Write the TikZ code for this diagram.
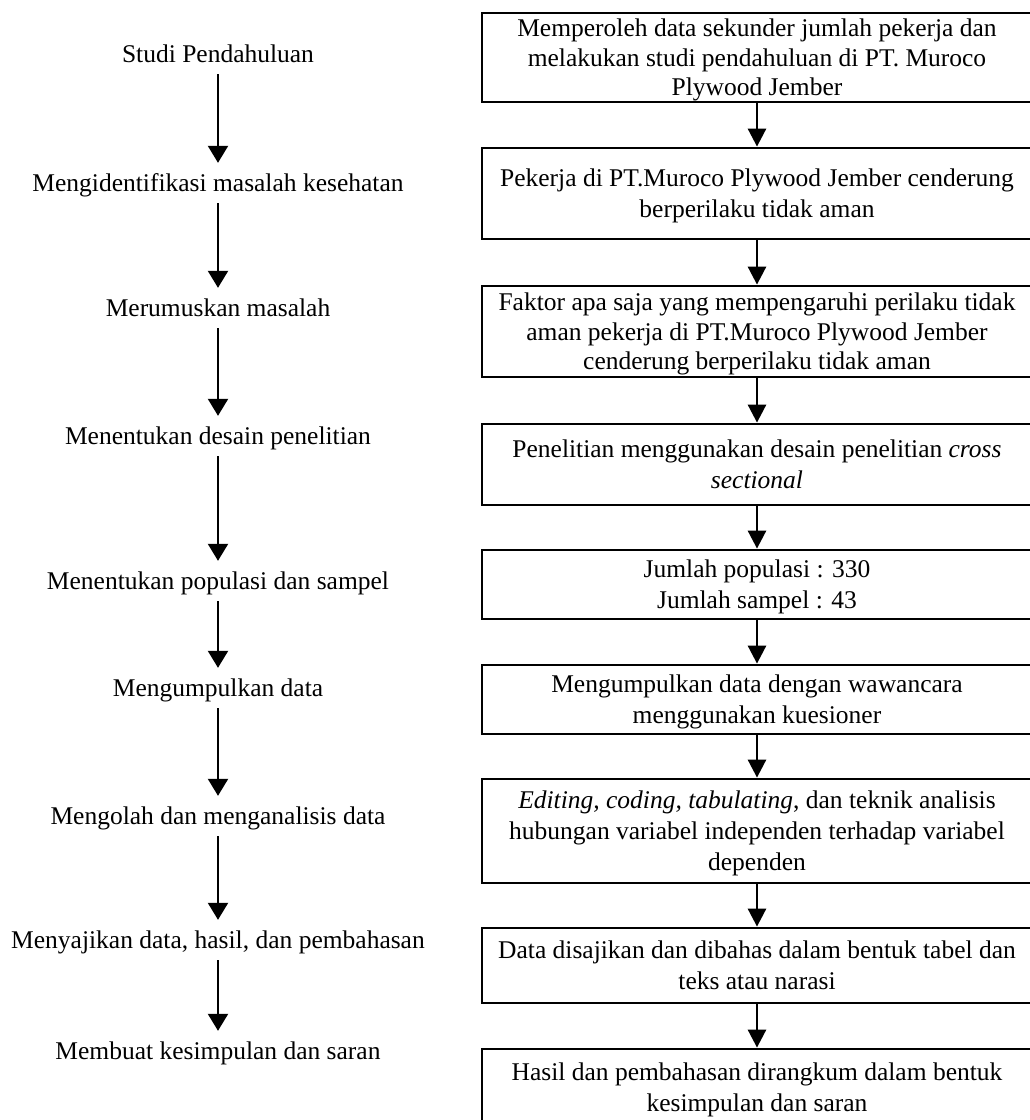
\documentclass[tikz,border=0pt]{standalone}
\usepackage{fontspec}
\setmainfont{Liberation Serif}
\usetikzlibrary{arrows.meta}
\newcommand\nodepth[1]{\raisebox{0pt}[\height][0pt]{#1}}
\begin{document}
\begin{tikzpicture}[x=1pt,y=-1pt,
  every node/.style={font=\fontsize{25.5}{31}\selectfont},
  tight/.style={font=\fontsize{25.5}{29.5}\selectfont},
  lbl/.style={text height=18pt,text depth=6pt,inner xsep=0pt,inner ysep=6pt},
  bx/.style={draw,line width=2.8pt,minimum width=550pt,align=center,inner sep=0pt},
  larr/.style={line width=2.2pt,-{Triangle[width=20pt,length=17pt]},shorten >=4pt},
  rarr/.style={line width=2.8pt,-{Triangle[width=18pt,length=18pt]}}]
\useasboundingbox (0,0) rectangle (1030,1120);
\clip (0,0) rectangle (1030,1120);
% left column
\node[lbl] (l1) at (218,56) {Studi Pendahuluan};
\node[lbl] (l2) at (218,185) {Mengidentifikasi masalah kesehatan};
\node[lbl] (l3) at (218,310) {Merumuskan masalah};
\node[lbl] (l4) at (218,438) {Menentukan desain penelitian};
\node[lbl] (l5) at (218,583) {Menentukan populasi dan sampel};
\node[lbl] (l6) at (218,690) {Mengumpulkan data};
\node[lbl] (l7) at (218,818) {Mengolah dan menganalisis data};
\node[lbl] (l8) at (218,942) {Menyajikan data, hasil, dan pembahasan};
\node[lbl] (l9) at (218,1053) {Membuat kesimpulan dan saran};
\foreach \a/\b in {l1/l2,l2/l3,l3/l4,l4/l5,l5/l6,l6/l7,l7/l8,l8/l9}
  \draw[larr] (\a.south) -- (\b.north);
% right column
\node[bx,tight,minimum height=89pt] (r1) at (757,57.5) {Memperoleh data sekunder jumlah pekerja dan\\melakukan studi pendahuluan di PT. Muroco\\\nodepth{Plywood Jember}};
\node[bx,minimum height=91pt] (r2) at (757,193.5) {Pekerja di PT.Muroco Plywood Jember cenderung\\\nodepth{berperilaku tidak aman}};
\node[bx,tight,minimum height=91pt] (r3) at (757,331.5) {Faktor apa saja yang mempengaruhi perilaku tidak\\aman pekerja di PT.Muroco Plywood Jember\\\nodepth{cenderung berperilaku tidak aman}};
\node[bx,minimum height=81pt] (r4) at (757,464.5) {Penelitian menggunakan desain penelitian \textit{cross}\\\nodepth{\textit{sectional}}};
\node[bx,minimum height=69pt] (r5) at (757,584.5) {Jumlah populasi : 330\\\nodepth{Jumlah sampel : 43}};
\node[bx,minimum height=69pt] (r6) at (757,699.5) {Mengumpulkan data dengan wawancara\\\nodepth{menggunakan kuesioner}};
\node[bx,minimum height=104pt] (r7) at (757,831) {\textit{Editing, coding, tabulating}, dan teknik analisis\\hubungan variabel independen terhadap variabel\\\nodepth{dependen}};
\node[bx,minimum height=75pt] (r8) at (757,965.5) {Data disajikan dan dibahas dalam bentuk tabel dan\\\nodepth{teks atau narasi}};
\node[bx,minimum height=76pt] (r9) at (757,1087) {Hasil dan pembahasan dirangkum dalam bentuk\\\nodepth{kesimpulan dan saran}};
\foreach \a/\b in {r1/r2,r2/r3,r3/r4,r4/r5,r5/r6,r6/r7,r7/r8,r8/r9}
  \draw[rarr] (\a.south) -- (\b.north);
\end{tikzpicture}
\end{document}
